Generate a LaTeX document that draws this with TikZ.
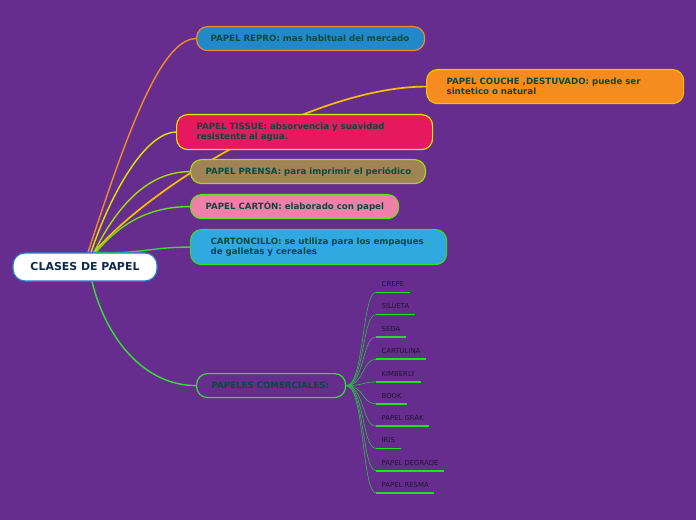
\documentclass[tikz,border=0pt]{standalone}
\usepackage{fontspec}
\setmainfont{DejaVu Sans}
\pgfdeclarelayer{bglayer}
\pgfdeclarelayer{edgelayer}
\pgfsetlayers{bglayer,edgelayer,main}
\definecolor{bgpurple}{HTML}{662D8E}
\definecolor{txtgreen}{HTML}{0B4A3C}
\definecolor{rootblue}{HTML}{1C7FC4}
\definecolor{rootnavy}{HTML}{0E2A4F}
\definecolor{leaftxt}{HTML}{22142E}
\definecolor{reprofill}{HTML}{2189CA}
\definecolor{reproline}{HTML}{EE8C2A}
\definecolor{couchefill}{HTML}{F68B1F}
\definecolor{coucheline}{HTML}{F5C000}
\definecolor{tissuefill}{HTML}{E6195E}
\definecolor{tissueline}{HTML}{E2E400}
\definecolor{prensafill}{HTML}{A08456}
\definecolor{prensaline}{HTML}{A4DC10}
\definecolor{cartonfill}{HTML}{F080AA}
\definecolor{cartonline}{HTML}{6ADC1C}
\definecolor{cillofill}{HTML}{30A8E0}
\definecolor{cilloline}{HTML}{3ADA28}
\definecolor{commline}{HTML}{33E033}
\definecolor{leafline}{HTML}{2DBA48}
\definecolor{uline}{HTML}{22E022}
\begin{document}
\begin{tikzpicture}[x=1bp,y=1bp,
  topic/.style={draw, line width=1.2bp, rounded corners=11bp, anchor=north west,
    align=left, font=\fontsize{8.7}{10.2}\bfseries, text=txtgreen, inner ysep=0pt},
  rootbox/.style={draw=rootblue, fill=white, line width=1.2bp, rounded corners=12bp,
    minimum width=144bp, minimum height=28bp, inner sep=0pt,
    font=\fontsize{11}{12}\bfseries, text=rootnavy},
  leaf/.style={anchor=south west, inner xsep=5.5bp, inner ysep=5.5bp,
    text height=5bp, text depth=0pt, font=\fontsize{6.9}{7}\selectfont, text=leaftxt},
  ulinestyle/.style={draw=uline, line width=1.6bp},
  conn/.style={line width=1.4bp},
  leafedge/.style={draw=leafline, line width=0.6bp}]
\begin{pgfonlayer}{bglayer}
\fill[bgpurple] (0,0) rectangle (696,-520);
\end{pgfonlayer}
\useasboundingbox (0,0) rectangle (696,-520);

% main nodes
\node[rootbox] (root) at (85,-267) {CLASES DE PAPEL};
\node[topic, fill=reprofill, draw=reproline, minimum height=24bp,
  text width=200bp, inner xsep=14bp] (repro) at (196,-26)
  {\mbox{PAPEL REPRO: mas habitual del mercado}};
\node[topic, fill=couchefill, draw=coucheline, minimum height=34bp,
  text width=217bp, inner xsep=20bp] (couche) at (426,-69)
  {\mbox{PAPEL COUCHE ,DESTUVADO: puede ser}\\\mbox{sintetico o natural}};
\node[topic, fill=tissuefill, draw=tissueline, minimum height=35bp,
  text width=216bp, inner xsep=20bp] (tissue) at (176,-114)
  {\mbox{PAPEL TISSUE: absorvencia y suavidad}\\\mbox{resistente al agua.}};
\node[topic, fill=prensafill, draw=prensaline, minimum height=24bp,
  text width=205bp, inner xsep=15bp] (prensa) at (190,-159)
  {\mbox{PAPEL PRENSA: para imprimir el periódico}};
\node[topic, fill=cartonfill, draw=cartonline, minimum height=24bp,
  text width=178bp, inner xsep=15bp] (carton) at (190,-194)
  {\mbox{PAPEL CARTÓN: elaborado con papel}};
\node[topic, fill=cillofill, draw=cilloline, minimum height=35bp,
  text width=216bp, inner xsep=20bp] (cillo) at (190,-229)
  {\mbox{CARTONCILLO: se utiliza para los empaques}\\\mbox{de galletas y cereales}};
\node[topic, fill=bgpurple, draw=commline, minimum height=24bp,
  text width=119bp, inner xsep=15bp] (comm) at (196,-373)
  {\mbox{PAPELES COMERCIALES:}};

% leaves
\node[leaf] (l1) at (376,-292.3) {CREPE};
\node[leaf] (l2) at (376,-314.6) {SILUETA};
\node[leaf] (l3) at (376,-336.9) {SEDA};
\node[leaf] (l4) at (376,-359.2) {CARTULINA};
\node[leaf] (l5) at (376,-381.9) {KIMBERLY};
\node[leaf] (l6) at (376,-403.8) {BOOK};
\node[leaf] (l7) at (376,-426.1) {PAPEL GRAK};
\node[leaf] (l8) at (376,-448.4) {IRIS};
\node[leaf] (l9) at (376,-470.7) {PAPEL DEGRADE};
\node[leaf] (l10) at (376,-493.0) {PAPEL RESMA};

\begin{pgfonlayer}{edgelayer}
\draw[conn, draw=reproline] ([xshift=3bp]root.north) .. controls +(37,113) and +(-36,0) .. (repro.west);
\draw[conn, draw=tissueline] ([xshift=6bp]root.north) .. controls +(20,60) and +(-30,0) .. (tissue.west);
\draw[conn, draw=coucheline, line width=1.7bp] ([xshift=9bp]root.north) .. controls +(60,70) and +(-110,0) .. (couche.west);
\draw[conn, draw=prensaline] ([xshift=9bp]root.north) .. controls +(25,50) and +(-40,0) .. (prensa.west);
\draw[conn, draw=cartonline] ([xshift=11bp]root.north) .. controls +(25,30) and +(-40,0) .. (carton.west);
\draw[conn, draw=cilloline] ([xshift=13bp]root.north) .. controls +(40,-2) and +(-40,0) .. (cillo.west);
\draw[conn, draw=commline] ([xshift=7bp]root.south) .. controls +(15,-60) and +(-50,0) .. (comm.west);
\foreach \l in {l1,l2,l3,l4,l5,l6,l7,l8,l9,l10}{
  \draw[leafedge] (comm.east) .. controls +(18,0) and +(-14,0) .. (\l.south west);
}
\end{pgfonlayer}
\foreach \l in {l1,l2,l3,l4,l5,l6,l7,l8,l9,l10}{
  \draw[ulinestyle] (\l.south west) -- (\l.south east);
}
\end{tikzpicture}
\end{document}
